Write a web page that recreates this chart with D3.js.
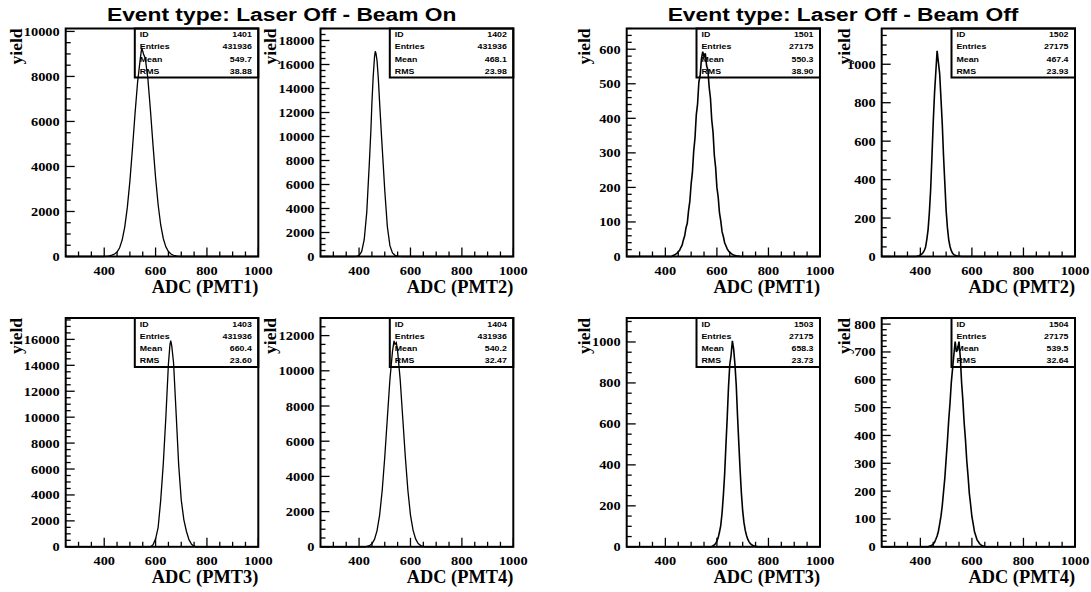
<!DOCTYPE html>
<html><head><meta charset="utf-8">
<script src="https://cdn.jsdelivr.net/npm/d3@7"></script>
<style>body{margin:0;background:#fff}svg{display:block}</style>
</head><body>
<svg id="c" width="1091" height="592"></svg>
<script>
// ---------------- data ----------------
const titles = ["Event type: Laser Off - Beam On", "Event type: Laser Off - Beam Off"];
const histIds = [1401, 1402, 1403, 1404, 1501, 1502, 1503, 1504];
const xTitles = ["ADC (PMT1)", "ADC (PMT2)", "ADC (PMT3)", "ADC (PMT4)", "ADC (PMT1)", "ADC (PMT2)", "ADC (PMT3)", "ADC (PMT4)"];
const entries = ["431936", "431936", "431936", "431936", "27175", "27175", "27175", "27175"];
const means = ["549.7", "468.1", "660.4", "540.2", "550.3", "467.4", "658.3", "539.5"];
const rmss = ["38.88", "23.98", "23.60", "32.47", "38.90", "23.93", "23.73", "32.64"];
const statLabels = ["ID", "Entries", "Mean", "RMS"];
const xDomain = [250, 1000];
const xTickValues = [400, 600, 800, 1000];
const yAxisTitle = "yield";
const yMaxes = [10130, 19000, 17650, 13000, 660, 1186, 1117, 822];
const yMajorSteps = [2000, 2000, 2000, 2000, 100, 200, 200, 100];
const yMinorSteps = [500, 500, 500, 500, 20, 50, 50, 20];

const h1401 = [[400,0],[410,10],[420,30],[430,60],[440,110],[450,200],[460,390],[470,740],[480,1320],[490,2180],[500,3350],[510,4800],[520,6350],[530,7750],[540,8750],[546,9270],[550,9120],[553,9000],[560,8800],[570,7900],[580,6500],[590,4950],[600,3500],[610,2300],[620,1400],[630,800],[640,430],[650,220],[660,110],[670,55],[680,25],[690,10],[700,0]];
const h1402 = [[380,0],[390,15],[400,90],[410,400],[420,1400],[430,3700],[440,7800],[446,10500],[450,12800],[455,15000],[460,16600],[463,17100],[466,16900],[470,16300],[475,14800],[480,12800],[488,9800],[495,7300],[500,5500],[510,2500],[520,900],[530,300],[540,100],[550,35],[560,10],[570,0]];
const h1403 = [[570,0],[580,10],[590,150],[600,600],[610,1500],[620,3600],[630,6400],[640,10000],[650,14100],[656,15600],[659,15900],[663,15500],[670,14200],[680,10300],[690,6300],[700,3600],[710,2100],[720,1200],[730,550],[740,200],[750,50],[760,0]];
const h1404 = [[420,0],[430,20],[440,60],[450,170],[460,420],[470,920],[480,1800],[490,3200],[500,5100],[510,7300],[520,9500],[530,11100],[536,11700],[540,11500],[545,11600],[550,11100],[560,9500],[570,7300],[580,5100],[590,3200],[600,1800],[610,950],[620,450],[630,190],[640,70],[650,25],[660,0]];
const h1501 = [[420,0],[425,1],[430,3],[435,4],[440,7],[445,9],[450,14],[455,17],[460,26],[465,33],[470,48],[475,60],[480,83],[485,96],[490,133],[495,160],[500,210],[505,244],[510,305],[515,343],[520,410],[525,442],[530,505],[535,524],[540,572],[545,593],[550,578],[555,588],[560,552],[565,540],[570,490],[575,458],[580,395],[585,360],[590,293],[595,258],[600,200],[605,172],[610,126],[615,103],[620,72],[625,58],[630,40],[635,31],[640,22],[645,16],[650,12],[655,9],[660,6],[665,4],[670,3],[675,2],[680,1],[685,1],[690,0]];
const h1502 = [[385,0],[390,2],[395,4],[400,8],[405,12],[410,20],[415,30],[420,48],[425,88],[430,140],[435,230],[440,350],[445,520],[450,700],[455,850],[460,960],[465,1070],[470,1010],[475,950],[480,820],[485,690],[490,520],[495,380],[500,240],[505,150],[510,88],[515,52],[520,30],[525,17],[530,10],[535,6],[540,4],[545,2],[550,1],[555,1],[560,0]];
const h1503 = [[575,0],[580,2],[585,5],[590,9],[595,16],[600,28],[605,45],[610,72],[615,105],[620,165],[625,250],[630,355],[635,495],[640,630],[645,780],[650,890],[655,935],[660,1005],[665,965],[670,890],[675,790],[680,640],[685,505],[690,375],[695,262],[700,175],[705,118],[710,80],[715,55],[720,36],[725,24],[730,15],[735,10],[740,6],[745,4],[750,2],[755,1],[760,0]];
const h1504 = [[430,0],[435,2],[440,4],[445,6],[450,10],[455,16],[460,27],[465,39],[470,56],[475,82],[480,110],[485,148],[490,198],[495,248],[500,315],[505,380],[510,455],[515,515],[520,590],[525,640],[530,690],[535,737],[540,700],[545,712],[550,737],[555,680],[560,590],[565,525],[570,445],[575,385],[580,310],[585,255],[590,192],[595,152],[600,108],[605,82],[610,54],[615,40],[620,25],[625,18],[630,11],[635,7],[640,4],[645,3],[650,1],[655,0]];
const histData = [h1401, h1402, h1403, h1404, h1501, h1502, h1503, h1504];

// ---------------- layout ----------------
const colLeft = [65.7, 320.5, 626.7, 881.7];
const colRight = [258.3, 513.3, 820, 1075];
const rowTop = [28.5, 318];
const rowBottom = [256.5, 546.8];
const yieldX = [21.5, 275.5, 590, 850];
const panelCol = [0, 1, 0, 1, 2, 3, 2, 3];
const panelRow = [0, 0, 1, 1, 0, 0, 1, 1];
const titleX = [281.7, 843];
const titleY = 20.5;

const svg = d3.select("#c");
const SERIF = "'Liberation Serif','Times New Roman',serif";
const SANS = "'Liberation Sans',Arial,Helvetica,sans-serif";

function stext(g, x, y, str, opts) {
  const sx = opts.sx || 1;
  return g.append("text")
    .attr("transform", `translate(${x},${y}) scale(${sx},1)` + (opts.rot ? ` rotate(${opts.rot})` : ""))
    .attr("font-family", opts.family)
    .attr("font-weight", "bold")
    .attr("font-size", opts.size)
    .attr("text-anchor", opts.anchor || "start")
    .attr("fill", "#000")
    .text(str);
}

titles.forEach((t, i) => {
  stext(svg, titleX[i], titleY, t, {family: SANS, size: 19, anchor: "middle", sx: 1.2});
});

histIds.forEach((id, i) => {
  const c = panelCol[i], r = panelRow[i];
  const L = colLeft[c], R = colRight[c], T = rowTop[r], B = rowBottom[r];
  const x = d3.scaleLinear().domain(xDomain).range([L, R]);
  const y = d3.scaleLinear().domain([0, yMaxes[i]]).range([B, T]);
  const g = svg.append("g");

  // stats box (drawn first; histogram line passes over it)
  const bw = 123.5, bh = 49;
  g.append("rect").attr("x", R - bw).attr("y", T).attr("width", bw).attr("height", bh)
    .attr("fill", "#fff").attr("stroke", "#000").attr("stroke-width", 2);
  const vals = [String(id), entries[i], means[i], rmss[i]];
  statLabels.forEach((lab, k) => {
    const yy = T + 8.5 + k * 12.3;
    stext(g, R - bw + 5, yy, lab, {family: SANS, size: 8, anchor: "start", sx: 1.1});
    stext(g, R - 6.5, yy, vals[k], {family: SANS, size: 8, anchor: "end", sx: 1.1});
  });

  // histogram
  const pts = [[xDomain[0], 0]].concat(histData[i], [[xDomain[1], 0]]);
  const line = d3.line().x(d => x(d[0])).y(d => y(d[1])).curve(d3.curveLinear);
  g.append("path").attr("d", line(pts)).attr("fill", "none")
    .attr("stroke", "#000").attr("stroke-width", i >= 4 ? 1.6 : 1.3)
    .attr("stroke-linejoin", "miter");

  // y ticks (inside, left)
  const yMinor = d3.range(0, yMaxes[i] + 1e-6, yMinorSteps[i]);
  yMinor.forEach(v => {
    const major = Math.abs(v / yMajorSteps[i] - Math.round(v / yMajorSteps[i])) < 1e-6;
    g.append("line").attr("x1", L).attr("x2", L + (major ? 9 : 5))
      .attr("y1", y(v)).attr("y2", y(v)).attr("stroke", "#000").attr("stroke-width", 1.3);
  });
  const yMajor = d3.range(0, yMaxes[i] + 1e-6, yMajorSteps[i]);
  yMajor.forEach(v => {
    stext(g, L - 6, y(v) + 4.5, String(v), {family: SERIF, size: 12.5, anchor: "end", sx: 1.15});
  });

  // x ticks (inside, bottom)
  const xMinor = d3.range(300, xDomain[1] + 1e-6, 50);
  xMinor.forEach(v => {
    const major = xTickValues.includes(v);
    g.append("line").attr("x1", x(v)).attr("x2", x(v))
      .attr("y1", B).attr("y2", B - (major ? 9 : 5)).attr("stroke", "#000").attr("stroke-width", 1.3);
  });
  xTickValues.forEach(v => {
    stext(g, x(v), B + 18, String(v), {family: SERIF, size: 12.5, anchor: "middle", sx: 1.15});
  });

  // frame
  g.append("rect").attr("x", L).attr("y", T).attr("width", R - L).attr("height", B - T)
    .attr("fill", "none").attr("stroke", "#000").attr("stroke-width", 2);

  // axis titles
  stext(g, R, B + 36, xTitles[i], {family: SERIF, size: 18, anchor: "end", sx: 1.02});
  stext(g, yieldX[c], T, yAxisTitle, {family: SERIF, size: 17.5, anchor: "end", rot: -90});
});
</script>
</body></html>
